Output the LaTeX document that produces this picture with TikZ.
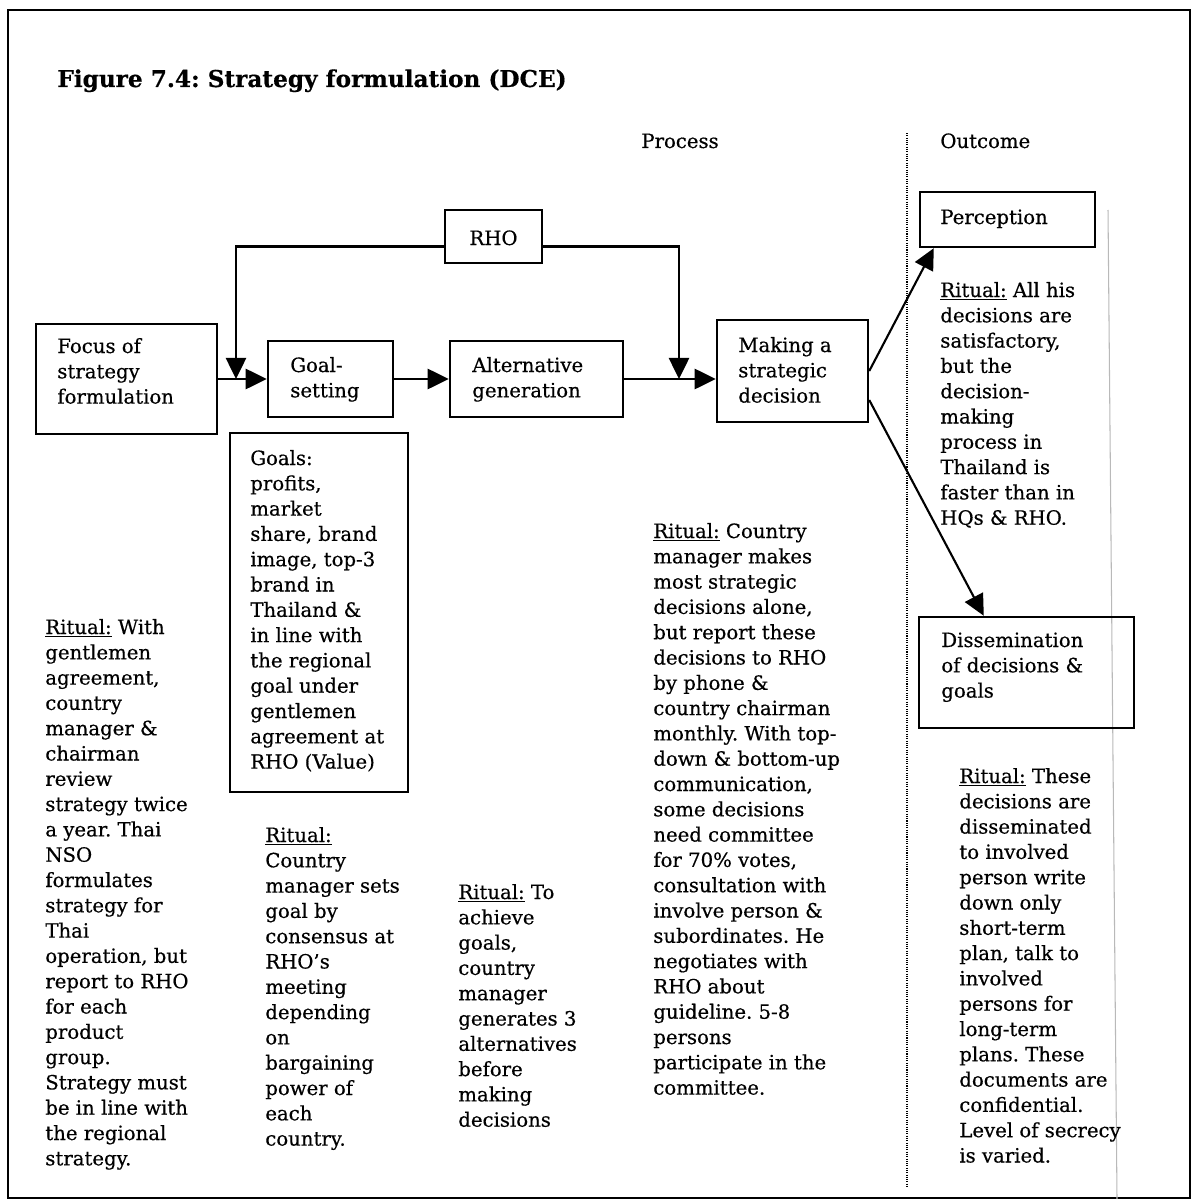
\documentclass[tikz,border=0pt]{standalone}
\usepackage{fontspec}
\setmainfont{DejaVu Serif}[FakeBold=0.5]
\usetikzlibrary{arrows.meta,fit,calc}
\frenchspacing
% multi-line text block whose baseline is that of its first line
\newcommand\lns[1]{\begin{tabular}[t]{@{}l@{}}#1\end{tabular}}
\newcommand\ritual{\underline{Ritual:}}
\begin{document}
\frenchspacing
\begin{tikzpicture}[x=0.02cm,y=-0.02cm,
  box/.style={draw,line width=1.4pt,inner sep=0pt},
  txt/.style={anchor=base west,inner sep=0pt,font=\fontsize{11.2}{14.4}\selectfont},
  conn/.style={line width=1.2pt,-{Triangle[length=12pt,width=11.5pt]}},
  frameline/.style={line width=1.1pt},
  divider/.style={line width=0.8pt,dash pattern=on 0.6pt off 0.7pt},
  faint/.style={gray!55,line width=0.6pt}
]
\useasboundingbox (0,0) rectangle (1193,1203);
\draw[frameline] (8,10) rectangle (1190,1198);

% headings
\node[txt,font=\fontsize{13.2}{16}\selectfont\bfseries] (title) at (57,87) {Figure 7.4: Strategy formulation (DCE)};
\node[txt] (process) at (641,148) {Process};
\node[txt] (outcome) at (940,148) {Outcome};

% column rules
\draw[divider] (907,133) -- (907,1187);
\draw[faint] (1108,210) -- (1117,1199);

% boxes
\node[box,fit={(36,324) (217,434)}] (focus) {};
\node[box,fit={(268,341) (393,417)}] (goal) {};
\node[box,fit={(450,341) (623,417)}] (alt) {};
\node[box,fit={(717,320) (868,422)}] (making) {};
\node[box,fit={(445,210) (542,263)}] (rho) {};
\node[box,fit={(920,192) (1095,247)}] (perception) {};
\node[box,fit={(919,617) (1134,728)}] (dissem) {};
\node[box,fit={(230,433) (408,792)}] (goals) {};

% box texts
\node[txt] (focus-t) at (57,353) {\lns{Focus of\\ strategy\\ formulation}};
\node[txt] (goal-t) at (290,372) {\lns{Goal-\\ setting}};
\node[txt] (alt-t) at (472,372) {\lns{Alternative\\ generation}};
\node[txt] (making-t) at (738,352) {\lns{Making a\\ strategic\\ decision}};
\node[txt,anchor=base] (rho-t) at (493.5,245) {RHO};
\node[txt] (perception-t) at (940,224) {Perception};
\node[txt] (dissem-t) at (941,647) {\lns{Dissemination\\ of decisions \&\\ goals}};
\node[txt] (goals-t) at (250,465) {\lns{Goals:\\ profits,\\ market\\ share, brand\\ image, top-3\\ brand in\\ Thailand \&\\ in line with\\ the regional\\ goal under\\ gentlemen\\ agreement at\\ RHO (Value)}};

% ritual notes
\node[txt] (r-focus) at (45,634) {\lns{\ritual{} With\\ gentlemen\\ agreement,\\ country\\ manager \&\\ chairman\\ review\\ strategy twice\\ a year. Thai\\ NSO\\ formulates\\ strategy for\\ Thai\\ operation, but\\ report to RHO\\ for each\\ product\\ group.\\ Strategy must\\ be in line with\\ the regional\\ strategy.}};
\node[txt] (r-goal) at (265,842) {\lns{\ritual\\ Country\\ manager sets\\ goal by\\ consensus at\\ RHO's\\ meeting\\ depending\\ on\\ bargaining\\ power of\\ each\\ country.}};
\node[txt] (r-alt) at (458,899) {\lns{\ritual{} To\\ achieve\\ goals,\\ country\\ manager\\ generates 3\\ alternatives\\ before\\ making\\ decisions}};
\node[txt] (r-making) at (653,538) {\lns{\ritual{} Country\\ manager makes\\ most strategic\\ decisions alone,\\ but report these\\ decisions to RHO\\ by phone \&\\ country chairman\\ monthly. With top-\\ down \& bottom-up\\ communication,\\ some decisions\\ need committee\\ for 70\% votes,\\ consultation with\\ involve person \&\\ subordinates. He\\ negotiates with\\ RHO about\\ guideline. 5-8\\ persons\\ participate in the\\ committee.}};
\node[txt] (r-perception) at (940,297) {\lns{\ritual{} All his\\ decisions are\\ satisfactory,\\ but the\\ decision-\\ making\\ process in\\ Thailand is\\ faster than in\\ HQs \& RHO.}};
\node[txt] (r-dissem) at (959,783) {\lns{\ritual{} These\\ decisions are\\ disseminated\\ to involved\\ person write\\ down only\\ short-term\\ plan, talk to\\ involved\\ persons for\\ long-term\\ plans. These\\ documents are\\ confidential.\\ Level of secrecy\\ is varied.}};

% flow
\coordinate (fbL) at (236,379);
\coordinate (fbR) at (679,379);
\draw[conn] (focus.east) -- (goal.west);
\draw[conn] (goal.east) -- (alt.west);
\draw[conn] (alt.east) -- (alt.east -| making.west);
\draw[conn] ($(rho.west)+(0,10)$) -| (fbL);
\draw[conn] ($(rho.east)+(0,10)$) -| (fbR);
\draw[conn] (making.east) -- ($(perception.south west)+(15,0)$);
\draw[conn] ($(making.east)+(0,29)$) -- ($(dissem.north west)+(66,0)$);
\end{tikzpicture}
\end{document}
